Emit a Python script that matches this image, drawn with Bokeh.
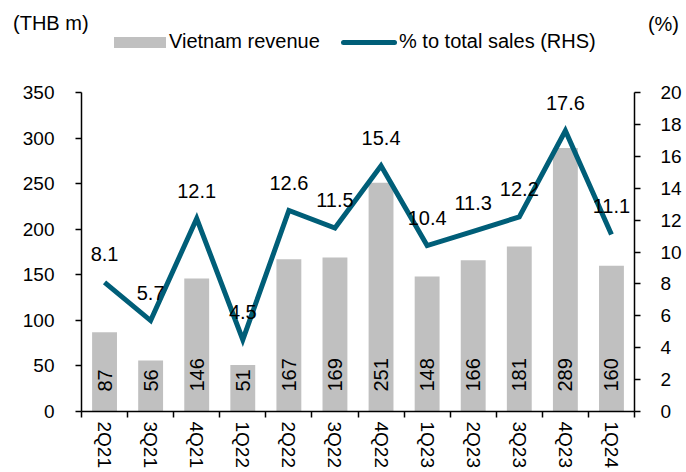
import math
from bokeh.plotting import figure
from bokeh.layouts import column
from bokeh.models import (Range1d, LinearAxis, FixedTicker, LabelSet, Div,
                          ColumnDataSource)
from bokeh.core.properties import value
from bokeh.embed import file_html
from bokeh.resources import INLINE

# ---- data ----
quarters = ["2Q21", "3Q21", "4Q21", "1Q22", "2Q22", "3Q22",
            "4Q22", "1Q23", "2Q23", "3Q23", "4Q23", "1Q24"]
revenue = [87, 56, 146, 51, 167, 169, 251, 148, 166, 181, 289, 160]
pct_sales = [8.1, 5.7, 12.1, 4.5, 12.6, 11.5, 15.4, 10.4, 11.3, 12.2, 17.6, 11.1]
rev_ticks = [0, 50, 100, 150, 200, 250, 300, 350]
pct_ticks = [0, 2, 4, 6, 8, 10, 12, 14, 16, 18, 20]
series_names = ["Vietnam revenue", "% to total sales (RHS)"]
units = ["(THB m)", "(%)"]

FONT = "Liberation Sans"
BAR = "#C0C0C0"
LINE = "#005E78"

W = 684
HEAD_H = 60
MAIN_H = 410

n = len(quarters)
xc = [i + 0.5 for i in range(n)]
src = ColumnDataSource(dict(
    x=xc, rev=revenue, rev_txt=[str(v) for v in revenue],
    pct=pct_sales, pct_txt=[f"{v:.1f}" for v in pct_sales], zero=[0] * n))

# ---------------- header: unit captions + legend ----------------
head_html = f"""
<div style="position:relative;width:{W}px;height:{HEAD_H}px;font-family:'{FONT}';
font-size:20px;line-height:23px;color:black;white-space:nowrap;">
  <span style="position:absolute;left:13px;top:12px;">{units[0]}</span>
  <span style="position:absolute;right:5px;top:13px;">{units[1]}</span>
  <div style="position:absolute;left:114px;top:37px;width:52px;height:11px;background:{BAR};"></div>
  <span style="position:absolute;left:169px;top:30px;">{series_names[0]}</span>
  <div style="position:absolute;left:341px;top:40px;width:56px;height:5px;border-radius:2.5px;background:{LINE};"></div>
  <span style="position:absolute;left:399px;top:30px;">{series_names[1]}</span>
</div>
"""
head = Div(text=head_html, width=W, height=HEAD_H, margin=(0, 0, 0, 0))

# ---------------- main chart ----------------
p = figure(width=W, height=MAIN_H, output_backend="svg", toolbar_location=None,
           x_range=Range1d(0, n), y_range=Range1d(0, 350),
           min_border_left=81, min_border_right=50, min_border_top=32,
           min_border_bottom=59)
p.extra_y_ranges = {"pct": Range1d(0, 20)}
p.outline_line_color = None
p.grid.visible = False


def style_axis(ax, standoff):
    ax.axis_line_width = 1.5
    ax.axis_line_color = "black"
    ax.major_tick_line_width = 1.5
    ax.major_tick_line_color = "black"
    ax.major_tick_in = 0
    ax.major_tick_out = 6
    ax.minor_tick_line_color = None
    ax.major_label_text_font = FONT
    ax.major_label_text_font_size = "19px"
    ax.major_label_text_color = "black"
    ax.major_label_standoff = standoff


ly = p.yaxis[0]
ly.ticker = FixedTicker(ticks=rev_ticks)
style_axis(ly, 21)

ry = LinearAxis(y_range_name="pct", ticker=FixedTicker(ticks=pct_ticks))
style_axis(ry, 20)
p.add_layout(ry, "right")

xa = p.xaxis[0]
xa.ticker = FixedTicker(ticks=xc, minor_ticks=list(range(n + 1)))
style_axis(xa, 4)
xa.major_tick_out = 0
xa.minor_tick_line_color = "black"
xa.minor_tick_line_width = 1.5
xa.minor_tick_in = 0
xa.minor_tick_out = 6
xa.major_label_overrides = {x: q for x, q in zip(xc, quarters)}
xa.major_label_orientation = "vertical"

p.vbar(x="x", top="rev", width=0.54, source=src, fill_color=BAR, line_color=None)
p.line(x="x", y="pct", y_range_name="pct", source=src,
       line_width=5, line_color=LINE, line_join="miter", line_cap="butt")

# bar value labels
p.add_layout(LabelSet(x="x", y="zero", text="rev_txt", source=src, y_offset=20,
                      angle=math.pi / 2, text_align="left", text_baseline="middle",
                      text_font=value(FONT), text_font_size=value("20px"),
                      text_color="black"))
# line value labels
p.add_layout(LabelSet(x="x", y="pct", y_range_name="pct", text="pct_txt", source=src,
                      y_offset=28, text_align="center", text_baseline="middle",
                      text_font=value(FONT), text_font_size=value("20px"),
                      text_color="black"))

layout = column(head, p, spacing=0)
open("out.html", "w").write(file_html(layout, INLINE))
